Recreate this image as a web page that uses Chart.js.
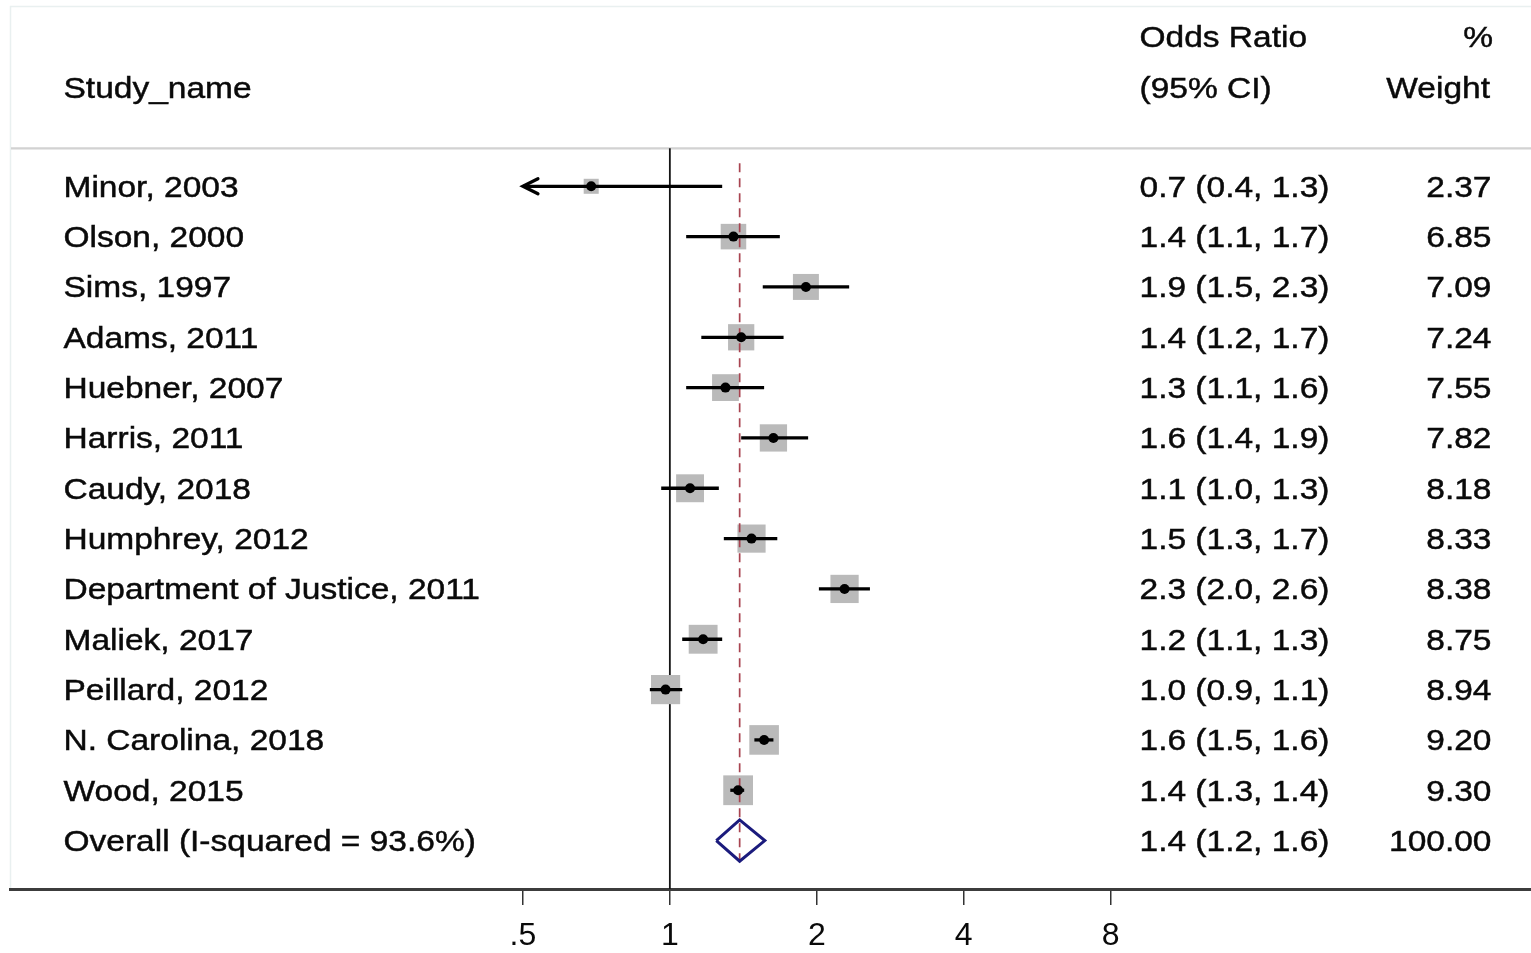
<!DOCTYPE html>
<html>
<head>
<meta charset="utf-8">
<script src="https://cdn.jsdelivr.net/npm/chart.js@4/dist/chart.umd.min.js"></script>
<style>
html,body{margin:0;padding:0;background:#fff;overflow:hidden}
#wrap{width:1531px;height:953px;position:relative}
canvas{display:block}
</style>
</head>
<body>
<div id="wrap"><canvas id="c" width="1531" height="953"></canvas></div>
<script>
// ---------------- DATA ----------------
const studyNames = ["Minor, 2003","Olson, 2000","Sims, 1997","Adams, 2011","Huebner, 2007","Harris, 2011","Caudy, 2018","Humphrey, 2012","Department of Justice, 2011","Maliek, 2017","Peillard, 2012","N. Carolina, 2018","Wood, 2015"];
const oddsRatio = [0.69, 1.35, 1.90, 1.40, 1.30, 1.63, 1.10, 1.47, 2.28, 1.17, 0.98, 1.56, 1.38];
const ciLower   = [0.40, 1.08, 1.55, 1.16, 1.08, 1.40, 0.96, 1.29, 2.02, 1.06, 0.91, 1.49, 1.33];
const ciUpper   = [1.28, 1.68, 2.33, 1.71, 1.56, 1.92, 1.26, 1.66, 2.57, 1.28, 1.06, 1.63, 1.42];
const orLabels  = ["0.7 (0.4, 1.3)","1.4 (1.1, 1.7)","1.9 (1.5, 2.3)","1.4 (1.2, 1.7)","1.3 (1.1, 1.6)","1.6 (1.4, 1.9)","1.1 (1.0, 1.3)","1.5 (1.3, 1.7)","2.3 (2.0, 2.6)","1.2 (1.1, 1.3)","1.0 (0.9, 1.1)","1.6 (1.5, 1.6)","1.4 (1.3, 1.4)"];
const weights   = [2.37, 6.85, 7.09, 7.24, 7.55, 7.82, 8.18, 8.33, 8.38, 8.75, 8.94, 9.20, 9.30];
const weightLabels = ["2.37","6.85","7.09","7.24","7.55","7.82","8.18","8.33","8.38","8.75","8.94","9.20","9.30"];
const overallName = "Overall (I-squared = 93.6%)";
const overallOR = 1.39;
const overallLower = 1.245;
const overallUpper = 1.565;
const overallLabel = "1.4 (1.2, 1.6)";
const overallWeight = "100.00";
const xTicks = [0.5, 1, 2, 4, 8];
const xTickLabels = [".5", "1", "2", "4", "8"];
const headerStudy = "Study_name";
const headerOR = ["Odds Ratio", "(95% CI)"];
const headerWeight = ["%", "Weight"];
const nullValue = 1;
const displayMin = 0.5; // CIs below this are clipped with an arrow

// ---------------- STYLE / LAYOUT ----------------
const FONT = '"Liberation Sans", Arial, sans-serif';
const FS = 29, SX = 1.155;
const TEXT = '#0a0a0a';
const nRows = studyNames.length;
const overallRow = nRows + 1;
const rows = studyNames.map((_, i) => i + 1);

const xMin = Math.pow(2, -4.491), xMax = Math.pow(2, 5.861);

const sqPts = studyNames.map((_, i) => ({x: oddsRatio[i], y: rows[i]}));
const ciSets = studyNames.map((_, i) => ({
  type: 'scatter', showLine: true, order: 2,
  data: [{x: Math.max(ciLower[i], displayMin), y: rows[i]}, {x: ciUpper[i], y: rows[i]}],
  borderColor: '#000', borderWidth: 3.3, pointRadius: 0, pointHoverRadius: 0, fill: false
}));
const diamondHalf = 0.41;
const diamond = [
  {x: overallLower, y: overallRow}, {x: overallOR, y: overallRow - diamondHalf},
  {x: overallUpper, y: overallRow}, {x: overallOR, y: overallRow + diamondHalf},
  {x: overallLower, y: overallRow}
];

const datasets = [
  { // weight boxes
    type: 'scatter', order: 4, data: sqPts,
    pointStyle: 'rect', pointRadius: weights.map(w => 6.9 * Math.sqrt(w)),
    pointHoverRadius: weights.map(w => 6.9 * Math.sqrt(w)),
    backgroundColor: '#bababa', borderWidth: 0
  },
  { // null line
    type: 'scatter', showLine: true, order: 5,
    data: [{x: nullValue, y: 0.245}, {x: nullValue, y: 16}],
    borderColor: '#151515', borderWidth: 1.8, pointRadius: 0, fill: false
  },
  { // overall dashed line
    type: 'scatter', showLine: true, order: 3,
    data: [{x: overallOR, y: 0.54}, {x: overallOR, y: 14.45}],
    borderColor: '#a84350', borderWidth: 1.7, borderDash: [9, 6], pointRadius: 0, fill: false
  },
  ...ciSets,
  { // point estimates
    type: 'scatter', order: 1, data: sqPts,
    pointStyle: 'circle', pointRadius: 5, backgroundColor: '#000', borderWidth: 0
  },
  { // overall diamond
    type: 'scatter', showLine: true, order: 0, data: diamond,
    borderColor: '#1b1b7d', borderWidth: 3, pointRadius: 0, fill: false, tension: 0
  }
];

function txt(ctx, s, x, yc, align) {
  ctx.save();
  ctx.translate(x, yc + 0.358 * FS);
  ctx.scale(SX, 1);
  ctx.font = FS + 'px ' + FONT;
  ctx.fillStyle = TEXT;
  ctx.strokeStyle = TEXT;
  ctx.lineWidth = 0.45;
  ctx.textAlign = align;
  ctx.textBaseline = 'alphabetic';
  ctx.fillText(s, 0, 0);
  ctx.strokeText(s, 0, 0);
  ctx.restore();
}

const forestPlugin = {
  id: 'forest',
  beforeDraw(chart) {
    const {ctx, chartArea: a, scales: {y}} = chart;
    ctx.save();
    ctx.fillStyle = '#fff';
    ctx.fillRect(0, 0, chart.width, chart.height);
    // light frame
    ctx.strokeStyle = '#e9f0f0';
    ctx.lineWidth = 1.5;
    ctx.beginPath();
    ctx.moveTo(a.left, a.top + 0.5); ctx.lineTo(a.right, a.top + 0.5);
    ctx.moveTo(a.left + 0.5, a.top); ctx.lineTo(a.left + 0.5, a.bottom);
    ctx.stroke();
    // header separator
    const ys = y.getPixelForValue(0.245);
    ctx.strokeStyle = '#d2d2d2';
    ctx.lineWidth = 2.2;
    ctx.beginPath();
    ctx.moveTo(a.left + 1, ys); ctx.lineTo(a.right, ys);
    ctx.stroke();
    ctx.restore();
  },
  afterDatasetsDraw(chart) {
    const {ctx, scales: {x, y}} = chart;
    // arrows for clipped CIs
    ctx.save();
    ctx.strokeStyle = '#000';
    ctx.lineWidth = 3.3;
    ctx.lineCap = 'round';
    studyNames.forEach((_, i) => {
      if (ciLower[i] < displayMin) {
        const px = x.getPixelForValue(displayMin), py = y.getPixelForValue(rows[i]);
        ctx.beginPath();
        ctx.moveTo(px + 15, py - 7.5); ctx.lineTo(px, py); ctx.lineTo(px + 15, py + 7.5);
        ctx.stroke();
      }
    });
    ctx.restore();
    // texts
    const colName = 63.5, colOR = 1139.5, colW = 1491.5;
    txt(ctx, headerStudy, colName, y.getPixelForValue(-0.953), 'left');
    txt(ctx, headerOR[0], colOR, y.getPixelForValue(-1.966), 'left');
    txt(ctx, headerOR[1], colOR, y.getPixelForValue(-0.953), 'left');
    txt(ctx, headerWeight[0], colW + 1.5, y.getPixelForValue(-1.966), 'right');
    txt(ctx, headerWeight[1], colW - 1.5, y.getPixelForValue(-0.953), 'right');
    studyNames.forEach((s, i) => {
      const yc = y.getPixelForValue(rows[i]);
      txt(ctx, s, colName, yc, 'left');
      txt(ctx, orLabels[i], colOR, yc, 'left');
      txt(ctx, weightLabels[i], colW, yc, 'right');
    });
    const yo = y.getPixelForValue(overallRow);
    txt(ctx, overallName, colName, yo, 'left');
    txt(ctx, overallLabel, colOR, yo, 'left');
    txt(ctx, overallWeight, colW, yo, 'right');
  }
};

new Chart(document.getElementById('c'), {
  type: 'scatter',
  data: {datasets},
  options: {
    responsive: false,
    animation: false,
    devicePixelRatio: 1,
    layout: {autoPadding: false, padding: {left: 10, right: 0, top: 6, bottom: 0}},
    plugins: {legend: {display: false}, tooltip: {enabled: false}, title: {display: false}},
    events: [],
    scales: {
      x: {
        type: 'logarithmic',
        position: 'bottom',
        min: xMin, max: xMax,
        bounds: 'data',
        afterBuildTicks: (axis) => { axis.ticks = xTicks.map(v => ({value: v})); },
        afterFit: (axis) => { axis.height = 64; },
        ticks: {
          autoSkip: false, maxRotation: 0, minRotation: 0,
          padding: 12,
          color: '#0a0a0a',
          font: {family: FONT, size: 32},
          callback: (v) => { const k = xTicks.indexOf(v); return k >= 0 ? xTickLabels[k] : ''; }
        },
        grid: {display: true, drawOnChartArea: false, drawTicks: true, tickLength: 16, color: '#333', lineWidth: 1.5},
        border: {display: true, color: '#3c3c3c', width: 3}
      },
      y: {
        type: 'linear', display: false, reverse: true,
        min: -2.582, max: 14.962
      }
    }
  },
  plugins: [forestPlugin]
});
</script>
</body>
</html>
